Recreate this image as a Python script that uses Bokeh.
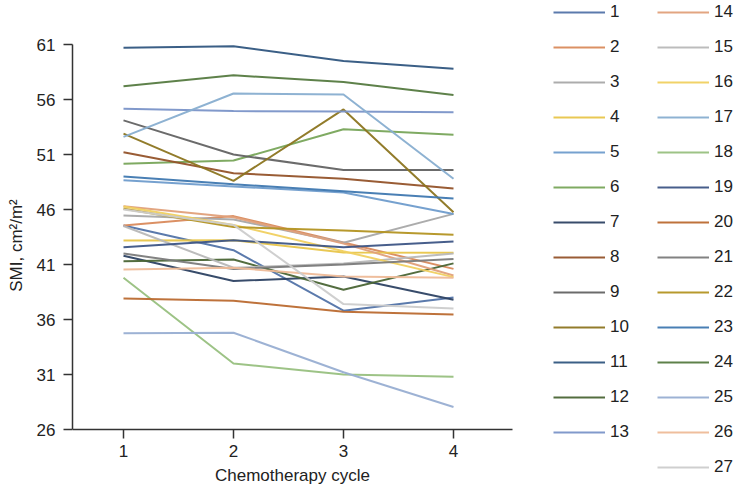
from bokeh.plotting import figure
from bokeh.models import Legend, LegendItem, FixedTicker, Range1d, Label
from bokeh.embed import file_html
from bokeh.resources import INLINE

# Chemotherapy cycles (x) and y ticks
cycles = [1, 2, 3, 4]
y_ticks = [26, 31, 36, 41, 46, 51, 56, 61]
patient_labels = [str(i) for i in range(1, 28)]

# SMI (cm2/m2) per patient over the 4 cycles
smi_p1 = [44.55, 42.3, 36.8, 38.0]
smi_p2 = [44.55, 45.4, 43.0, 40.6]
smi_p3 = [45.45, 45.1, 42.97, 45.6]
smi_p4 = [43.18, 43.2, 42.1, 42.06]
smi_p5 = [48.65, 48.1, 47.55, 45.6]
smi_p6 = [50.15, 50.45, 53.3, 52.8]
smi_p7 = [41.8, 39.5, 39.9, 37.8]
smi_p8 = [51.2, 49.3, 48.8, 47.9]
smi_p9 = [54.1, 51.0, 49.6, 49.6]
smi_p10 = [52.9, 48.6, 55.1, 45.75]
smi_p11 = [60.7, 60.85, 59.5, 58.8]
smi_p12 = [41.3, 41.45, 38.7, 41.1]
smi_p13 = [55.15, 54.95, 54.9, 54.85]
smi_p14 = [46.3, 45.3, 42.9, 40.0]
smi_p15 = [44.5, 40.7, 41.1, 42.0]
smi_p16 = [46.27, 44.6, 42.2, 39.85]
smi_p17 = [52.6, 56.55, 56.45, 48.8]
smi_p18 = [39.8, 32.0, 31.0, 30.8]
smi_p19 = [42.57, 43.2, 42.57, 43.1]
smi_p20 = [37.9, 37.7, 36.7, 36.45]
smi_p21 = [42.0, 40.6, 41.0, 41.5]
smi_p22 = [46.06, 44.4, 44.1, 43.7]
smi_p23 = [49.0, 48.3, 47.65, 47.0]
smi_p24 = [57.2, 58.2, 57.6, 56.4]
smi_p25 = [34.75, 34.8, 31.2, 28.05]
smi_p26 = [40.55, 40.7, 39.9, 39.8]
smi_p27 = [46.0, 44.6, 37.4, 37.0]

smi_series = [smi_p1, smi_p2, smi_p3, smi_p4, smi_p5, smi_p6, smi_p7, smi_p8, smi_p9,
              smi_p10, smi_p11, smi_p12, smi_p13, smi_p14, smi_p15, smi_p16, smi_p17,
              smi_p18, smi_p19, smi_p20, smi_p21, smi_p22, smi_p23, smi_p24, smi_p25,
              smi_p26, smi_p27]

colors = ["#5273a8", "#d98a5c", "#a8a8a8", "#e8c54a", "#6f9ccc", "#78a55a",
          "#2d4263", "#93532a", "#636363", "#8c7520", "#30567f", "#4a6535",
          "#7a93c8", "#e0a07a", "#b8b8b8", "#f0d060", "#88aed0", "#98c080",
          "#3d5585", "#bb6a30", "#7b7b7b", "#b39322", "#3f78b0", "#557a40",
          "#98aed2", "#eebb98", "#cccccc"]

FONT = "Liberation Sans"

W, H = 736, 490
LEFT = 72
# 110 px per cycle, 11 px per SMI unit; frame spans the whole figure right/top/bottom
x_lo, x_axis_hi = 1 - 51 / 110.0, 4 + 59 / 110.0
x_hi = x_lo + (W - LEFT) / 110.0
y_axis_lo, y_axis_hi = 26, 61
y_hi = 61 + 44 / 11.0
y_lo = 26 - (H - 429) / 11.0

p = figure(width=W, height=H, output_backend="svg", toolbar_location=None,
           x_range=Range1d(x_lo, x_hi), y_range=Range1d(y_lo, y_hi),
           min_border_left=LEFT, min_border_right=0, min_border_top=0,
           min_border_bottom=0)
p.outline_line_color = None
p.xgrid.visible = False
p.ygrid.visible = False
p.background_fill_color = "white"

renderers = []
for vals, col in zip(smi_series, colors):
    r = p.line(cycles, vals, line_color=col, line_width=2, line_alpha=0.95)
    renderers.append(r)

for ax in (p.xaxis[0], p.yaxis[0]):
    ax.axis_line_color = "#333333"
    ax.axis_line_width = 1.5
    ax.major_tick_line_color = "#333333"
    ax.major_tick_line_width = 1.5
    ax.major_tick_out = 9
    ax.major_tick_in = 0
    ax.minor_tick_line_color = None
    ax.major_label_text_font = FONT
    ax.major_label_text_font_size = "17px"
    ax.major_label_text_color = "#222222"
    ax.axis_label_text_font = FONT
    ax.axis_label_text_font_size = "17px"
    ax.axis_label_text_font_style = "normal"
    ax.axis_label_text_color = "#222222"

p.xaxis.ticker = FixedTicker(ticks=cycles)
p.yaxis.ticker = FixedTicker(ticks=y_ticks)
p.xaxis.bounds = (x_lo, x_axis_hi)
p.yaxis.bounds = (y_axis_lo, y_axis_hi)
p.xaxis.fixed_location = y_axis_lo
p.yaxis.axis_label = "SMI, cm\u00b2/m\u00b2"
p.xaxis.major_label_standoff = 6
p.yaxis.major_label_standoff = 8
p.yaxis.axis_label_standoff = 8

xtitle = Label(x=(x_lo + x_axis_hi) / 2, y=15, y_units="screen",
               text="Chemotherapy cycle", text_align="center", text_baseline="middle",
               text_font=FONT, text_font_size="17px", text_color="#222222")
p.add_layout(xtitle)

items1 = [LegendItem(label=patient_labels[i], renderers=[renderers[i]]) for i in range(13)]
items2 = [LegendItem(label=patient_labels[i], renderers=[renderers[i]]) for i in range(13, 27)]

def make_legend(items, loc):
    return Legend(items=items, location=loc, orientation="vertical",
                  glyph_width=52, glyph_height=20, label_height=20, spacing=15,
                  label_standoff=5, padding=0, margin=0,
                  border_line_color=None, background_fill_alpha=0,
                  label_text_font=FONT, label_text_font_size="17px",
                  label_text_color="#222222")

h1 = 13 * 20 + 12 * 15
h2 = 14 * 20 + 13 * 15
leg1 = make_legend(items1, (553 - LEFT, H - h1 - 2))
leg2 = make_legend(items2, (657 - LEFT, H - h2 - 2))
p.add_layout(leg1, "center")
p.add_layout(leg2, "center")

open("out.html", "w").write(file_html(p, INLINE))
